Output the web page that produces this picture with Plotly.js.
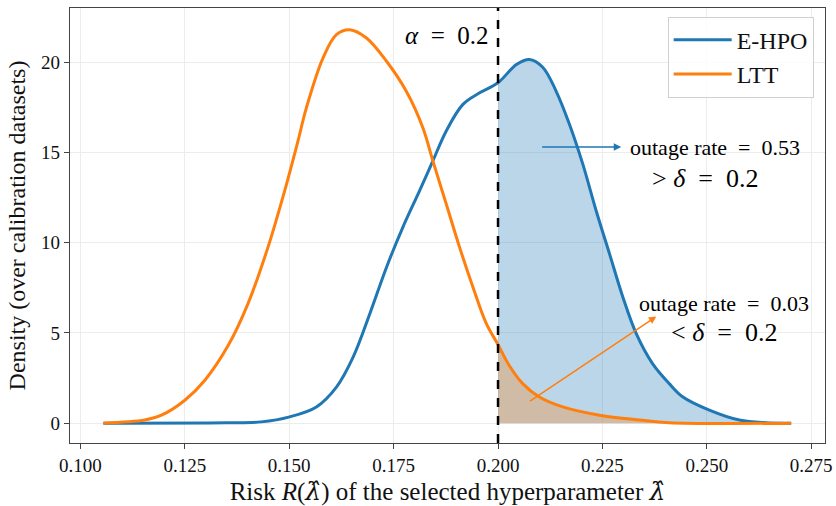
<!DOCTYPE html>
<html>
<head>
<meta charset="utf-8">
<script src="https://cdn.plot.ly/plotly-3.0.1.min.js"></script>
<style>html,body{margin:0;padding:0;background:#fff;}#chart{width:836px;height:506px;}</style>
</head>
<body>
<div id="chart"></div>
<script>
// ---- data ----
const ALPHA = 0.2;
const ehpoX = [0.1055, 0.1350, 0.1433, 0.1501, 0.1565, 0.1613, 0.1653, 0.1693, 0.1733, 0.1772, 0.1812, 0.1844, 0.1876, 0.1916, 0.1956, 0.2000, 0.2044, 0.2075, 0.2107, 0.2139, 0.2171, 0.2203, 0.2235, 0.2267, 0.2299, 0.2331, 0.2370, 0.2410, 0.2442, 0.2506, 0.2578, 0.2642, 0.2702];
const ehpoY = [0, 0.02, 0.07, 0.35, 0.9, 2.0, 3.66, 6.06, 8.64, 10.85, 12.87, 14.53, 16.19, 17.66, 18.3, 18.86, 19.87, 20.15, 19.72, 18.4, 16.56, 14.35, 11.77, 9.38, 6.98, 4.96, 3.3, 2.19, 1.46, 0.72, 0.17, 0.02, 0];
const lttX = [0.1055, 0.1154, 0.1194, 0.1250, 0.1298, 0.1354, 0.1401, 0.1449, 0.1489, 0.1521, 0.1541, 0.1581, 0.1613, 0.1645, 0.1685, 0.1733, 0.1780, 0.1820, 0.1844, 0.1876, 0.1908, 0.1940, 0.1972, 0.2000, 0.2028, 0.2059, 0.2099, 0.2155, 0.2243, 0.2339, 0.2410, 0.2702];
const lttY = [0, 0.17, 0.44, 1.27, 2.38, 4.31, 6.61, 9.74, 12.87, 15.64, 17.47, 20.24, 21.53, 21.8, 21.34, 20.05, 18.4, 16.37, 14.53, 12.14, 9.74, 7.53, 5.51, 4.35, 3.15, 2.19, 1.45, 0.9, 0.44, 0.17, 0.02, 0];
const seriesNames = ["E-HPO", "LTT"];
const outageRates = ["0.53", "0.03"];
const DELTA = "0.2";
const xTicks = [0.100, 0.125, 0.150, 0.175, 0.200, 0.225, 0.250, 0.275];
const yTicks = [0, 5, 10, 15, 20];

const BLUE = "#1f77b4", ORANGE = "#ff7f0e";
const FONT = "'Liberation Serif', 'Times New Roman', serif";
const SM = 1.0;
const EQ = " \u00A0=\u00A0 ";
const LHAT = "<span style=\"font-family:'DejaVu Serif'\"><i>λ̂</i></span>";

function tail(xs, ys) {
  const fx = [], fy = [];
  xs.forEach((x, i) => { if (x >= ALPHA) { fx.push(x); fy.push(ys[i]); } });
  return {x: fx, y: fy};
}
const ehpoTail = tail(ehpoX, ehpoY);
const lttTail = tail(lttX, lttY);

const traces = [
  {x: ehpoTail.x, y: ehpoTail.y, type: "scatter", mode: "lines", fill: "tozeroy",
   fillcolor: "rgba(31,119,180,0.3)", line: {width: 0, shape: "spline", smoothing: SM}, showlegend: false, hoverinfo: "skip"},
  {x: lttTail.x, y: lttTail.y, type: "scatter", mode: "lines", fill: "tozeroy",
   fillcolor: "rgba(255,127,14,0.3)", line: {width: 0, shape: "spline", smoothing: SM}, showlegend: false, hoverinfo: "skip"},
  {x: ehpoX, y: ehpoY, type: "scatter", mode: "lines", name: seriesNames[0],
   line: {color: BLUE, width: 3, shape: "spline", smoothing: SM}},
  {x: lttX, y: lttY, type: "scatter", mode: "lines", name: seriesNames[1],
   line: {color: ORANGE, width: 3, shape: "spline", smoothing: SM}}
];

const layout = {
  width: 836, height: 506,
  margin: {l: 70, r: 11, t: 8, b: 63},
  paper_bgcolor: "#fff", plot_bgcolor: "#fff",
  font: {family: FONT, color: "#000"},
  showlegend: true,
  legend: {x: 0.985, xanchor: "right", y: 0.98, yanchor: "top",
    bgcolor: "rgba(255,255,255,0.85)", bordercolor: "#d0d0d0", borderwidth: 1,
    itemwidth: 58,
    font: {family: FONT, size: 24, color: "#111"}},
  xaxis: {range: [0.0975, 0.2783], tickvals: xTicks, tickformat: ".3f",
    showgrid: true, gridcolor: "#ececec", gridwidth: 1, zeroline: false,
    showline: true, linecolor: "#444", linewidth: 1.3, mirror: true,
    ticks: "outside", ticklen: 5, tickcolor: "#444",
    tickfont: {family: FONT, size: 19, color: "#111"},
    title: {text: "Risk <i>R</i>(" + LHAT + ") of the selected hyperparameter " + LHAT, font: {family: FONT, size: 25, color: "#111"}, standoff: 10}},
  yaxis: {range: [-1.1, 23.0], tickvals: yTicks,
    showgrid: true, gridcolor: "#ececec", gridwidth: 1, zeroline: false,
    showline: true, linecolor: "#444", linewidth: 1.3, mirror: true,
    ticks: "outside", ticklen: 5, tickcolor: "#444",
    tickfont: {family: FONT, size: 19, color: "#111"},
    title: {text: "Density (over calibration datasets)", font: {family: FONT, size: 24, color: "#111"}, standoff: 8}},
  shapes: [
    {type: "line", xref: "x", yref: "paper", x0: ALPHA, x1: ALPHA, y0: 0, y1: 1,
     line: {color: "#000", width: 2.5, dash: "dash"}, layer: "above"}
  ],
  annotations: [
    {xref: "x", yref: "y", x: 0.1980, y: 21.45, xanchor: "right", yanchor: "middle", showarrow: false,
     text: "<i>α</i>" + EQ + ALPHA, font: {family: FONT, size: 25, color: "#000"}},
    // blue arrow
    {xref: "x", yref: "y", axref: "x", ayref: "y", x: 0.2295, y: 15.3, ax: 0.2102, ay: 15.3,
     text: "", showarrow: true, arrowcolor: BLUE, arrowwidth: 1.5, arrowhead: 2, arrowsize: 1},
    {xref: "x", yref: "y", x: 0.2520, y: 15.25, xanchor: "center", yanchor: "middle", showarrow: false,
     text: "outage rate" + EQ + outageRates[0], font: {family: FONT, size: 22, color: "#000"}},
    {xref: "x", yref: "y", x: 0.2495, y: 13.55, xanchor: "center", yanchor: "middle", showarrow: false,
     text: "&gt; <i>δ</i>" + EQ + DELTA, font: {family: FONT, size: 26, color: "#000"}},
    // orange arrow
    {xref: "x", yref: "y", axref: "x", ayref: "y", x: 0.2379, y: 5.91, ax: 0.2073, ay: 1.16,
     text: "", showarrow: true, arrowcolor: ORANGE, arrowwidth: 1.5, arrowhead: 2, arrowsize: 1},
    {xref: "x", yref: "y", x: 0.2541, y: 6.65, xanchor: "center", yanchor: "middle", showarrow: false,
     text: "outage rate" + EQ + outageRates[1], font: {family: FONT, size: 22, color: "#000"}},
    {xref: "x", yref: "y", x: 0.2541, y: 5.0, xanchor: "center", yanchor: "middle", showarrow: false,
     text: "&lt; <i>δ</i>" + EQ + DELTA, font: {family: FONT, size: 26, color: "#000"}}
  ]
};

Plotly.newPlot("chart", traces, layout, {displayModeBar: false, staticPlot: true});
</script>
</body>
</html>
